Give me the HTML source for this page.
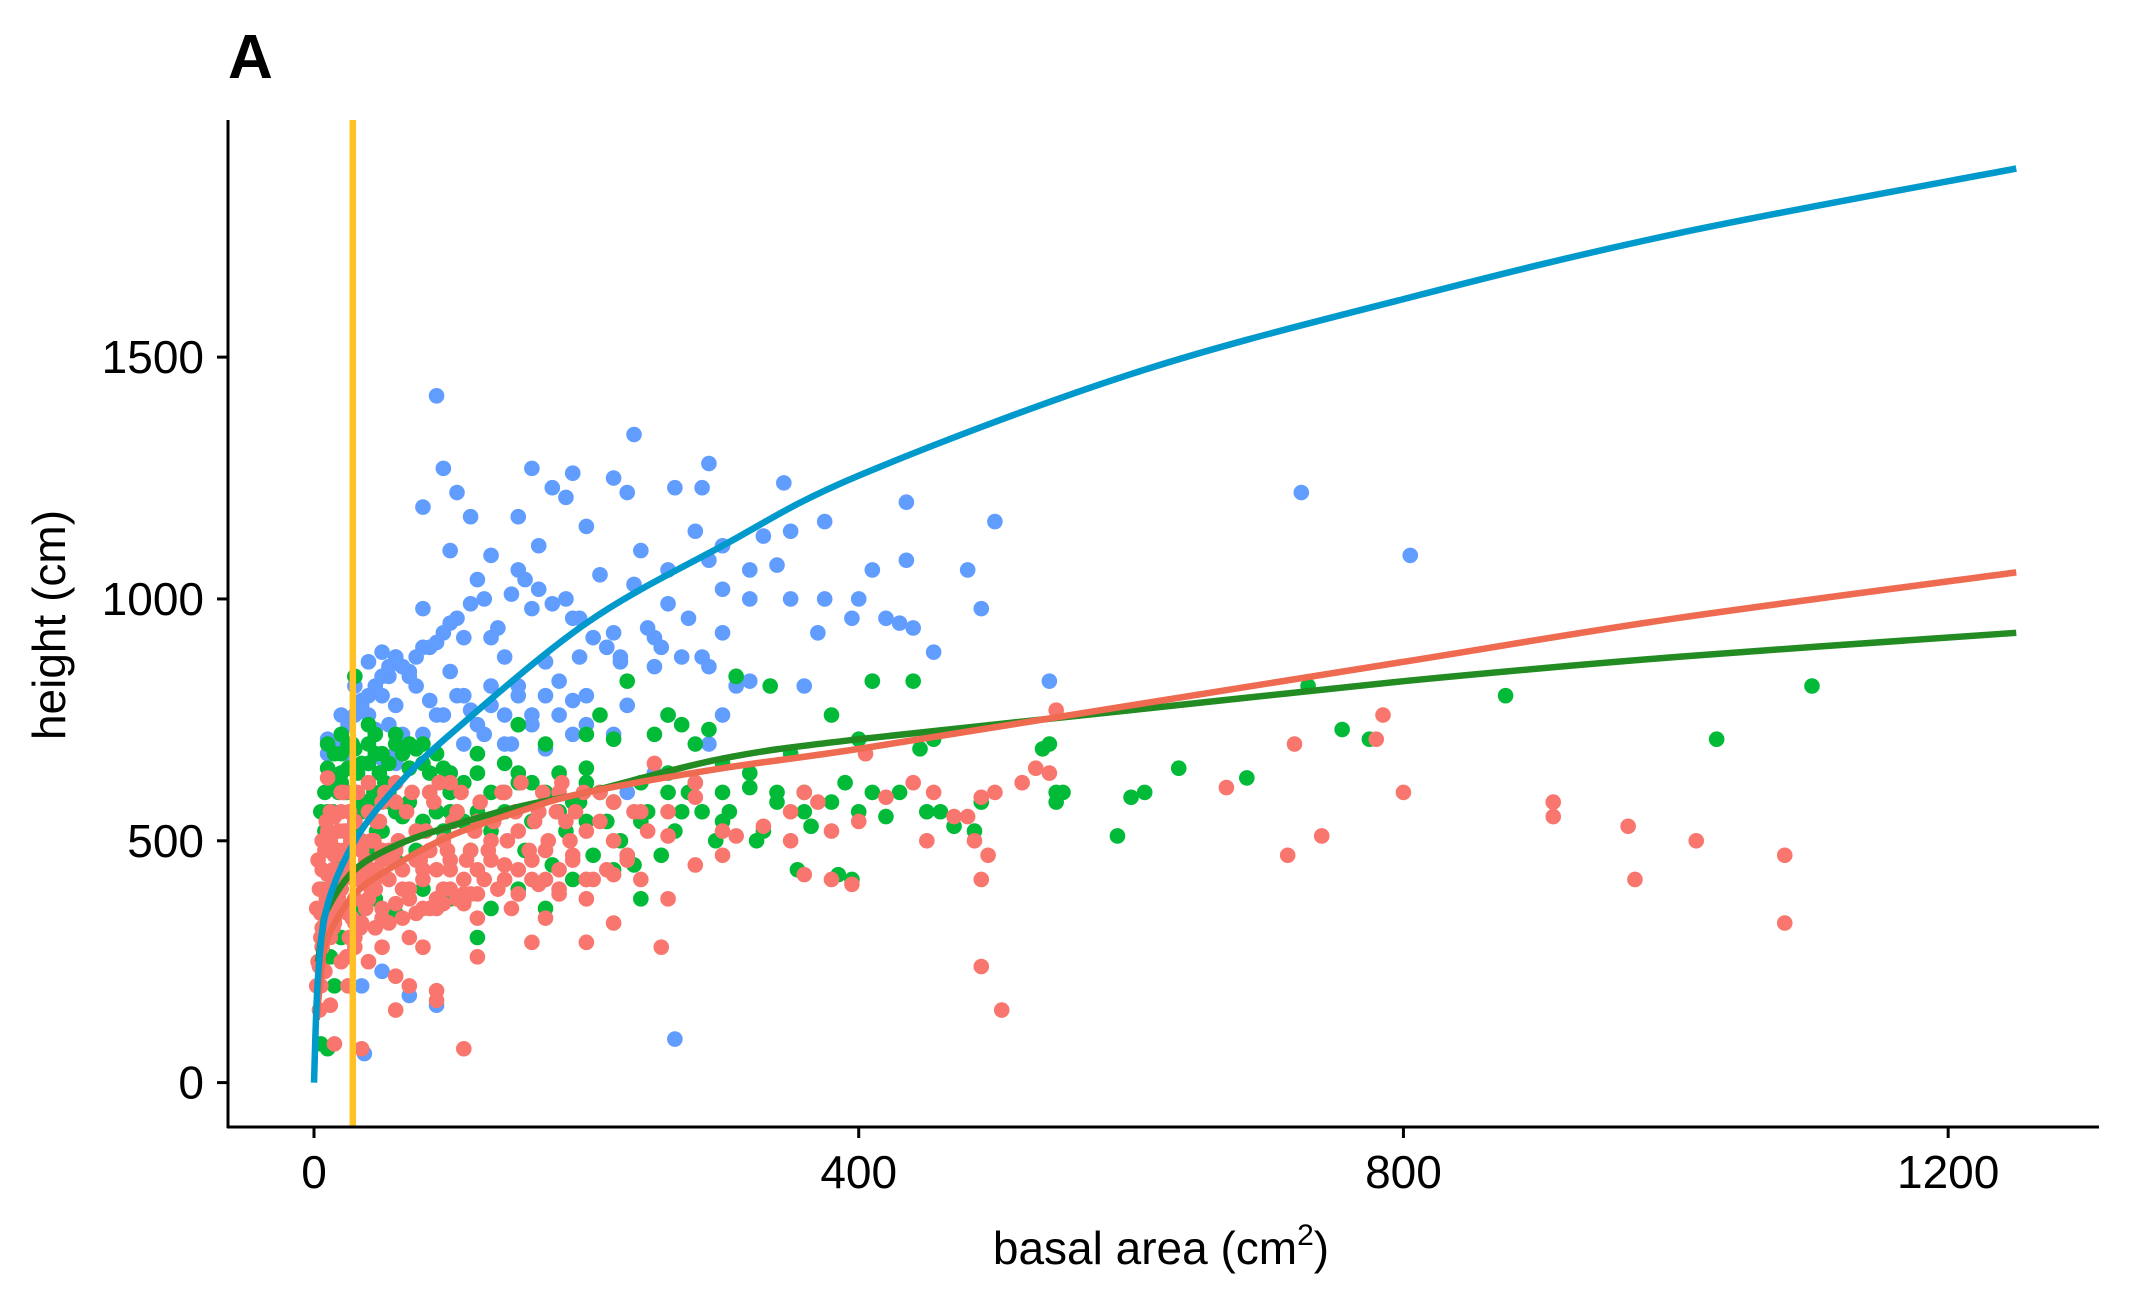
<!DOCTYPE html>
<html><head><meta charset="utf-8"><style>
html,body{margin:0;padding:0;background:#fff;}
svg{display:block;font-family:"Liberation Sans",Arial,sans-serif;}
</style></head><body>
<svg id="chart" width="2130" height="1315" viewBox="0 0 2130 1315">
<text x="228" y="78" font-size="62" font-weight="bold">A</text>
<g id="points"></g>
<g id="curves"></g>
<g id="axes"></g>
<text x="1161" y="1264" font-size="46" text-anchor="middle">basal area (cm<tspan font-size="30" dy="-19">2</tspan><tspan dy="19">)</tspan></text>
<text transform="translate(65,625) rotate(-90)" font-size="46" text-anchor="middle">height (cm)</text>
</svg>
<script>
const xTicks=[0,400,800,1200];
const yTicks=[0,500,1000,1500];
const blueX=[90,235,95,160,105,175,190,220,265,290,285,345,80,115,150,185,230,280,300,330,350,375,435,500,725,805,100,130,165,200,240,260,290,320,340,410,435,480,300,320,350,375,400,420,440,490,120,150,210,235,260,80,100,130,160,190,220,250,275,300,370,395,430,285,80,90,110,140,170,195,225,250,290,320,360,410,455,540,60,50,40,70,100,130,150,180,200,230,260,30,35,50,60,90,120,160,190,20,10,45,80,110,140,170,25,60,100,15,265,37,70,90,35,50,290,300,310,250,230,
55,65,75,85,95,105,115,125,135,145,155,165,175,185,195,205,215,225,245,255,270,140,160,180,200,220,110,130,150,170,190,75,85,95,105,115,40,55,65,125,145,
10,15,20,25,30,35,40,45,50,55,60,65,70,20,30,40,50,60];
const blueH=[1420,1340,1270,1270,1220,1230,1260,1250,1230,1280,1230,1240,1190,1170,1170,1210,1220,1140,1110,1130,1140,1160,1200,1160,1220,1090,1100,1090,1110,1150,1100,1060,1080,1060,1070,1060,1080,1060,1020,1000,1000,1000,1000,960,940,980,1040,1060,1050,1030,990,980,950,920,980,960,930,920,960,930,930,960,950,880,900,910,920,880,870,880,870,860,860,830,820,830,890,830,880,890,870,850,850,820,800,830,800,780,760,820,790,800,780,760,740,760,720,760,710,730,720,700,700,690,680,660,640,620,90,60,180,160,200,230,700,760,820,640,600,
840,860,880,900,930,960,990,1000,940,1010,1040,1020,990,1000,960,920,900,880,940,900,880,760,740,760,740,720,800,780,820,800,790,820,790,760,800,770,760,740,720,720,700,
680,700,720,740,760,780,800,820,840,860,880,860,840,640,650,660,670,680];
const greenX=[30,10,20,40,60,80,25,45,70,100,120,150,200,220,230,250,260,270,280,290,310,335,300,320,350,360,380,400,390,410,420,410,440,445,455,460,470,485,490,535,540,545,545,550,590,600,610,635,685,730,755,775,875,1030,1100,5,8,12,18,22,28,35,40,50,55,65,75,85,95,105,115,130,140,155,165,175,185,195,205,215,225,235,245,255,265,275,285,295,305,325,340,355,365,385,395,5,10,15,20,30,45,60,80,100,130,150,170,190,220,240,120,12,230,260,200,210,150,170,90,60,35,
10,15,20,25,30,35,40,45,50,55,60,65,70,75,80,85,90,95,100,110,120,130,140,150,160,170,180,190,200,210,220,240,260,280,300,320,340,360,380,400,430,450,10,20,30,40,50,60,70,80,90,100,110,120,140,160,180,200,240,270,300,330,
5,8,12,16,20,24,28,32,36,40,44,48,52,56,8,14,22,30,38,46];
const greenH=[840,700,720,740,720,700,650,680,650,640,680,620,650,710,830,720,760,740,700,730,840,820,660,640,680,600,760,710,620,600,550,830,830,690,710,560,530,520,580,690,700,580,600,600,510,590,600,650,630,820,730,710,800,710,820,400,500,550,600,450,520,560,480,520,600,550,480,600,520,560,480,520,600,480,560,450,520,580,470,540,500,450,560,470,520,600,560,500,560,500,580,440,530,430,420,80,70,200,300,350,380,350,400,380,360,400,360,420,440,380,300,260,470,600,720,760,740,700,560,460,430,
650,680,640,700,690,660,700,720,680,660,700,680,700,690,660,640,680,650,600,620,640,600,660,640,620,600,640,580,620,600,580,620,640,620,600,610,600,560,580,560,600,560,560,620,600,580,600,560,580,540,560,560,540,560,560,540,560,540,540,560,540,520,
560,600,640,620,680,600,700,640,580,660,600,640,620,580,520,560,600,540,580,520];
const redX=[10,40,110,35,15,60,70,90,90,120,160,200,220,255,260,240,280,300,310,330,350,360,370,380,395,400,405,420,440,450,455,470,480,485,490,490,490,495,500,505,520,530,540,545,670,715,720,740,780,785,800,910,910,965,970,1015,1080,1080,360,380,280,280,300,350,260,5,8,10,12,15,20,25,30,35,40,45,50,55,60,65,70,75,80,85,90,95,100,105,110,115,120,125,130,140,145,150,160,165,170,180,185,190,200,205,210,220,230,235,245,250,180,140,100,60,30,20,15,25,40,50,8,4,12,120,80,60,200,170,
3,6,9,14,18,22,26,32,38,44,48,52,58,62,68,72,78,82,88,92,98,102,108,112,118,122,128,132,138,142,148,152,158,162,168,172,178,182,188,192,198,210,220,240,260,5,10,15,20,25,30,35,40,45,50,55,60,65,70,75,80,85,90,95,100,110,120,130,140,150,160,170,180,190,200,215,230,5,10,15,20,25,30,40,50,60,70,80,90,100,110,120,135,150,165,180,200,220,
2,4,6,8,10,12,14,16,18,20,22,24,26,28,30,34,38,42,46,50,2,4,6,8,10,12,14,16,18,20,22,24,26,28,30,34,38,42,46,50,3,6,9,12,15,18,21,24,27,30,35,45,55,65,75,85,95,105,115];
const redH=[630,620,70,70,80,150,200,190,170,260,290,290,330,280,380,420,450,470,510,530,500,600,580,520,410,540,680,590,620,500,600,550,550,500,590,420,240,470,600,150,620,650,640,770,610,470,700,510,710,760,600,580,550,530,420,500,470,330,430,420,590,620,520,560,510,200,300,400,500,550,600,450,380,500,560,420,340,480,580,400,300,520,440,600,360,500,440,560,390,480,540,420,500,450,360,520,420,560,480,390,540,470,520,420,600,500,460,560,520,660,600,600,620,620,300,250,350,200,250,280,230,150,160,340,280,220,380,340,
250,320,380,440,480,520,560,600,440,500,540,600,460,500,560,600,460,520,580,620,480,540,600,460,520,580,480,540,600,500,560,620,480,540,600,500,560,620,500,560,600,540,580,560,560,350,430,470,400,460,420,480,440,400,460,420,480,440,400,460,420,480,440,400,460,420,440,460,420,440,460,420,440,460,420,440,470,300,340,330,360,350,330,380,360,370,380,360,380,400,370,390,400,390,410,400,420,430,
200,240,280,320,360,400,440,480,520,560,600,260,300,340,380,420,460,500,540,580,360,400,440,480,520,560,320,360,400,440,480,520,560,600,280,320,360,400,440,480,460,500,540,300,340,380,420,460,500,540,330,320,330,340,350,360,370,380,390];
const blueCurveX=[0,3,10,30,60,100,200,300,400,600,800,1000,1250];
const blueCurveH=[0,220,368,500,610,720,950,1110,1255,1465,1620,1755,1890];
const redCurveX=[2,5,10,30,60,100,150,200,300,400,600,800,1000,1250];
const redCurveH=[130,220,300,390,450,510,560,600,650,690,780,870,960,1055];
const greenCurveX=[3,6,10,30,60,100,150,200,300,400,600,800,1000,1250];
const greenCurveH=[250,310,360,440,490,530,570,600,670,710,770,830,880,930];
const cutoffX=[28.5];

const NS="http://www.w3.org/2000/svg";
function sx(v){return 314+v*1.3618;}
function sy(v){return 1082.6-v*0.48365;}
function mk(tag,attrs,parent){const e=document.createElementNS(NS,tag);for(const k in attrs)e.setAttribute(k,attrs[k]);parent.appendChild(e);return e;}
const P=document.getElementById('points');
function drawPts(xs,hs,col,name){
  for(let i=0;i<xs.length;i++){
    const c=mk('circle',{cx:sx(xs[i]),cy:sy(hs[i]),r:7.8,fill:col},P);
    
    
  }
}
drawPts(blueX,blueH,'#619CFF','point-blue');
drawPts(greenX,greenH,'#00BA38','point-green');
drawPts(redX,redH,'#F8766D','point-red');
const C=document.getElementById('curves');
function smoothPath(xs,hs){
  const p=xs.map((x,i)=>[sx(x),sy(hs[i])]);
  let d='M'+p[0][0]+','+p[0][1];
  for(let i=0;i<p.length-1;i++){
    const p0=p[Math.max(0,i-1)],p1=p[i],p2=p[i+1],p3=p[Math.min(p.length-1,i+2)];
    const c1=[p1[0]+(p2[0]-p0[0])/6,p1[1]+(p2[1]-p0[1])/6];
    const c2=[p2[0]-(p3[0]-p1[0])/6,p2[1]-(p3[1]-p1[1])/6];
    d+=' C'+c1[0]+','+c1[1]+' '+c2[0]+','+c2[1]+' '+p2[0]+','+p2[1];
  }
  return d;
}
function drawCurve(xs,hs,col,name){
  const l=mk('path',{d:smoothPath(xs,hs),fill:'none',stroke:col,'stroke-width':6.5,'stroke-linejoin':'round'},C);
  
  
}
drawCurve(greenCurveX,greenCurveH,'#228B22','fit-curve-green');
drawCurve(redCurveX,redCurveH,'#EE6A50','fit-curve-red');
drawCurve(blueCurveX,blueCurveH,'#0099CC','fit-curve-blue');
const g=mk('line',{x1:sx(cutoffX[0]),x2:sx(cutoffX[0]),y1:120,y2:1127,stroke:'#FFC125','stroke-width':6.5},C);


const A=document.getElementById('axes');
const ya=mk('line',{x1:228,x2:228,y1:120,y2:1128,stroke:'#000','stroke-width':3},A);


const xa=mk('line',{x1:227,x2:2099,y1:1127,y2:1127,stroke:'#000','stroke-width':3},A);


xTicks.forEach(t=>{
  const tk=mk('line',{x1:sx(t),x2:sx(t),y1:1127,y2:1138,stroke:'#000','stroke-width':3},A);
  
  
  const tx=mk('text',{x:sx(t),y:1188,'font-size':46,'text-anchor':'middle',fill:'#000'},A);
  tx.textContent=t;
  
  
});
yTicks.forEach(t=>{
  const tk=mk('line',{x1:217,x2:228,y1:sy(t),y2:sy(t),stroke:'#000','stroke-width':3},A);
  
  
  const tx=mk('text',{x:204,y:sy(t)+16,'font-size':46,'text-anchor':'end',fill:'#000'},A);
  tx.textContent=t;
  
  
});
</script>
</body></html>
